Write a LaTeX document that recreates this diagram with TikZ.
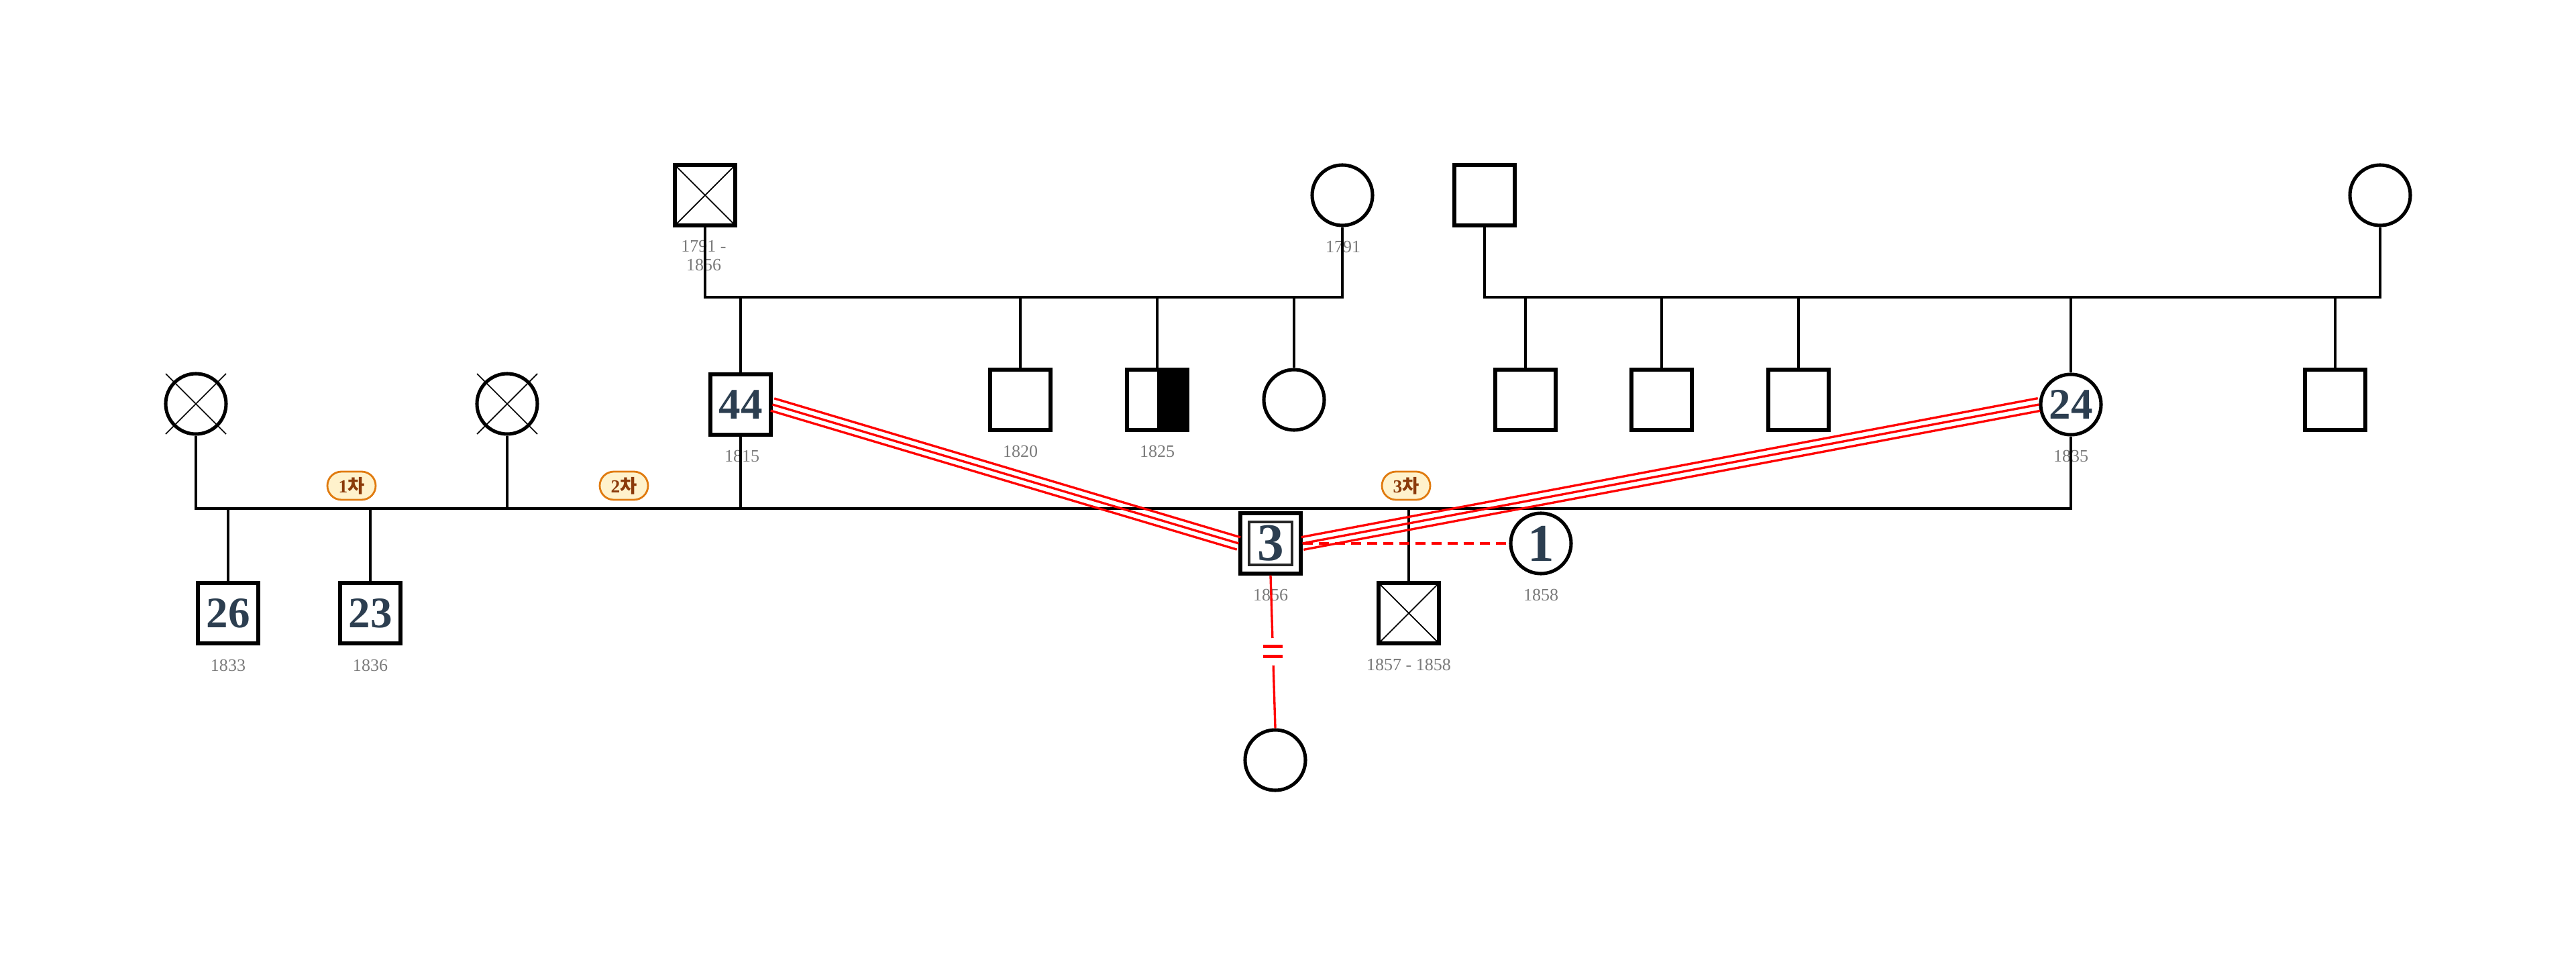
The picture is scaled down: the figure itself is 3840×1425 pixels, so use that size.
\documentclass[tikz,border=0pt]{standalone}
\usepackage{fontspec}
\setmainfont{Liberation Serif}
\newfontfamily\cjk{Noto Sans CJK KR}
\usetikzlibrary{calc}
\definecolor{navy}{HTML}{2C3E50}
\definecolor{yrgray}{HTML}{7A7A7A}
\definecolor{badgefill}{HTML}{FFF2CC}
\definecolor{badgeline}{HTML}{E07B10}
\definecolor{badgetext}{HTML}{8B3A0A}
\definecolor{rl}{HTML}{FF0000}
\begin{document}
\begin{tikzpicture}[x=0.1mm,y=-0.1mm,
 sq/.style={draw, line width=1.45pt, minimum size=9.0mm, inner sep=0pt, fill=white},
 ci/.style={sq, circle},
 xsq/.style={sq, path picture={\draw[black, line width=0.5pt] (path picture bounding box.north west) -- (path picture bounding box.south east) (path picture bounding box.north east) -- (path picture bounding box.south west);}},
 half/.style={sq, path picture={\fill[black] (path picture bounding box.north) rectangle (path picture bounding box.south east);}},
 numa/.style={text=navy, font=\fontsize{18.5pt}{20pt}\selectfont\bfseries},
 numb/.style={text=navy, font=\fontsize{22.5pt}{24pt}\selectfont\bfseries},
 yr/.style={text=yrgray, font=\fontsize{7.4pt}{7.8pt}\selectfont, inner sep=0pt, align=center},
 badge/.style={draw=badgeline, fill=badgefill, line width=0.8pt, rounded corners=2.1mm, minimum width=7.2mm, minimum height=4.2mm, inner sep=0pt, text=badgetext, font=\fontsize{7.8pt}{8pt}\selectfont\bfseries},
 ln/.style={line width=1.05pt, black},
 rln/.style={line width=0.95pt, rl},
]
\fill[white] (0,0) rectangle (3840,1425);
\useasboundingbox (0,0) rectangle (3840,1425);

% grandparents
\node[xsq] (g1) at (1051,291) {};
\node[ci] (g2) at (2001,291) {};
\node[sq] (g3) at (2213,291) {};
\node[ci] (g4) at (3548,291) {};
\node[yr] (yg1) at (1049,381) {1791 -\\1856};
\node[yr] (yg2) at (2002,368) {1791};
\coordinate (fam1) at (1500,443);
\coordinate (fam2) at (2800,443);

% children row
\node[sq,numa] (n44) at (1104,603) {44};
\node[sq] (c1820) at (1521,596) {};
\node[half] (c1825) at (1725,596) {};
\node[ci] (cf) at (1929,596) {};
\node[sq] (r1) at (2274,596) {};
\node[sq] (r2) at (2477,596) {};
\node[sq] (r3) at (2681,596) {};
\node[ci,numa] (n24) at (3087,603) {24};
\node[sq] (r4) at (3481,596) {};
\node[yr] (y44) at (1106,680) {1815};
\node[yr] (y1820) at (1521,673) {1820};
\node[yr] (y1825) at (1725,673) {1825};
\node[yr] (y24) at (3087,680) {1835};

% wives
\node[ci] (xc1) at (292,602) {};
\node[ci] (xc2) at (756,602) {};
\foreach \n in {xc1,xc2}{
 \draw[line width=0.5pt] ([shift={(-45,-45)}]\n.center) -- ([shift={(45,45)}]\n.center)
   ([shift={(45,-45)}]\n.center) -- ([shift={(-45,45)}]\n.center);
}
\coordinate (mar) at (1500,758);

% next generation
\node[sq,numa] (k26) at (340,914) {26};
\node[sq,numa] (k23) at (552,914) {23};
\node[xsq] (kx) at (2100,914) {};
\node[yr] (y26) at (340,992) {1833};
\node[yr] (y23) at (552,992) {1836};
\node[yr] (ykx) at (2100,991) {1857 - 1858};

\node[sq] (n3) at (1894,810) {};
\node[draw=black!85, line width=1.05pt, minimum size=6.4mm, inner sep=0pt, numb] (n3i) at (n3.center) {3};
\node[yr] (y3) at (1894,887) {1856};
\node[ci,numb] (n1) at (2297,810) {1};
\node[yr] (y1) at (2297,887) {1858};
\node[ci] (bot) at (1901,1133) {};

% badges
\node[badge] (b1) at (524,724) {1{\cjk 차}};
\node[badge] (b2) at (930,724) {2{\cjk 차}};
\node[badge] (b3) at (2096,724) {3{\cjk 차}};

% black connectors
\draw[ln] (g1.south) |- (fam1) -| (g2.south);
\draw[ln] (g3.south) |- (fam2) -| (g4.south);
\foreach \c in {n44,c1820,c1825,cf}{\draw[ln] (\c.north) -- (\c.north |- fam1);}
\foreach \c in {r1,r2,r3,n24,r4}{\draw[ln] (\c.north) -- (\c.north |- fam2);}
\draw[ln] (xc1.south) |- (mar) -| (n24.south);
\draw[ln] (xc2.south) -- (xc2.south |- mar);
\draw[ln] (n44.south) -- (n44.south |- mar);
\foreach \c in {k26,k23,kx}{\draw[ln] (\c.north) -- (\c.north |- mar);}

% red connectors
\draw[rln] (n44.east) -- (n3.west);
\draw[rln] ($(n44.east)!0.95mm!90:(n3.west)$) -- ($(n3.west)!0.95mm!-90:(n44.east)$);
\draw[rln] ($(n44.east)!0.95mm!-90:(n3.west)$) -- ($(n3.west)!0.95mm!90:(n44.east)$);
\draw[rln] (n24.west) -- (n3.east);
\draw[rln] ($(n24.west)!0.95mm!90:(n3.east)$) -- ($(n3.east)!0.95mm!-90:(n24.west)$);
\draw[rln] ($(n24.west)!0.95mm!-90:(n3.east)$) -- ($(n3.east)!0.95mm!90:(n24.west)$);
\draw[rln, line width=1.05pt, dash pattern=on 1.5mm off 0.9mm] (n3.east) -- (n1.west);
\path (n3.south) -- coordinate[pos=0.41] (br1) coordinate[pos=0.465] (bm1) coordinate[pos=0.53] (bm2) coordinate[pos=0.59] (br2) (bot.north);
\draw[rln] (n3.south) -- (br1);
\draw[rln] (br2) -- (bot.north);
\draw[rl, line width=1.25pt] ([xshift=-1.45mm]bm1) -- ([xshift=1.45mm]bm1);
\draw[rl, line width=1.25pt] ([xshift=-1.45mm]bm2) -- ([xshift=1.45mm]bm2);
\end{tikzpicture}
\end{document}
